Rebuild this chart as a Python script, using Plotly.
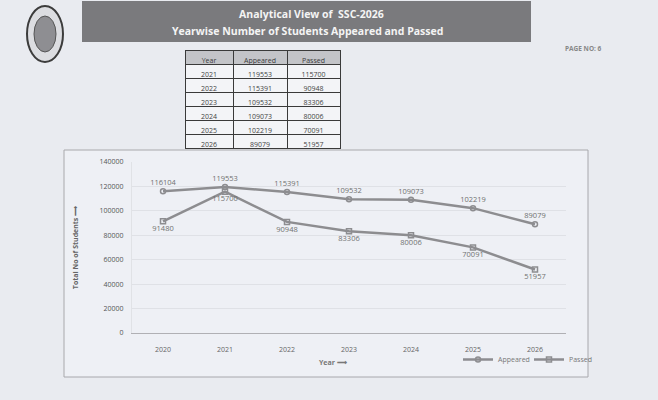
import plotly.graph_objects as go

# data
years = ['2020', '2021', '2022', '2023', '2024', '2025', '2026']
appeared = [116104, 119553, 115391, 109532, 109073, 102219, 89079]
passed = [91480, 115700, 90948, 83306, 80006, 70091, 51957]

table_years = ['2021', '2022', '2023', '2024', '2025', '2026']
table_appeared = [119553, 115391, 109532, 109073, 102219, 89079]
table_passed = [115700, 90948, 83306, 80006, 70091, 51957]

y_ticks = [0, 20000, 40000, 60000, 80000, 100000, 120000, 140000]

W, H = 658, 400
def px(x):
    return x / W
def py(y):
    return 1 - y / H

line_grey = '#8d8d90'
text_grey = '#707070'
font = 'Open Sans, Liberation Sans, Arial'

fig = go.Figure()

# table
fig.add_trace(go.Table(
    domain=dict(x=[px(185), px(340)], y=[py(150), py(50)]),
    columnwidth=[48, 54, 53],
    header=dict(
        values=['Year', 'Appeared', 'Passed'],
        fill_color='#c3c4c8',
        line_color='#3a3a3a',
        font=dict(family=font, size=7, color='#3c3c3c'),
        height=14, align='center'
    ),
    cells=dict(
        values=[table_years, table_appeared, table_passed],
        fill_color='#f3f4f7',
        line_color='#3a3a3a',
        font=dict(family=font, size=7, color='#444'),
        height=14, align='center'
    )
))

# lines
fig.add_trace(go.Scatter(
    x=years, y=appeared, name='Appeared',
    mode='lines+markers+text',
    line=dict(color=line_grey, width=2.5),
    marker=dict(symbol='circle-open', size=5, color=line_grey, line=dict(width=1.5)),
    text=[str(v) for v in appeared], textposition='top center',
    textfont=dict(family=font, size=7.5, color=text_grey),
    cliponaxis=False
))
fig.add_trace(go.Scatter(
    x=years, y=passed, name='Passed',
    mode='lines+markers+text',
    line=dict(color=line_grey, width=2.5),
    marker=dict(symbol='square-open', size=5, color=line_grey, line=dict(width=1.5)),
    text=[str(v) for v in passed], textposition='bottom center',
    textfont=dict(family=font, size=7.5, color=text_grey),
    cliponaxis=False
))

shapes = [
    # logo
    dict(type='circle', xref='paper', yref='paper',
         x0=px(27), x1=px(63), y0=py(62), y1=py(6),
         line=dict(color='#3c3c3c', width=2), fillcolor='#dcdde1'),
    dict(type='circle', xref='paper', yref='paper',
         x0=px(34), x1=px(56), y0=py(52), y1=py(16),
         line=dict(color='#555', width=1), fillcolor='#8e8e92'),
    # header banner
    dict(type='rect', xref='paper', yref='paper',
         x0=px(82), x1=px(531), y0=py(42), y1=py(1),
         line=dict(width=0), fillcolor='#7a7a7d', layer='below'),
    # chart frame
    dict(type='rect', xref='paper', yref='paper',
         x0=px(64), x1=px(588), y0=py(377), y1=py(150),
         line=dict(color='#a8a8ac', width=1), fillcolor='#eef0f5', layer='below'),
]

def note(text, x, y, size, color):
    return dict(text=text, x=px(x), y=py(y), xref='paper', yref='paper',
                xanchor='center', yanchor='middle', showarrow=False,
                font=dict(family=font, size=size, color=color))

annotations = [
    note('<b>Analytical View of  SSC-2026</b>', 311, 14, 10.5, '#f4f4f4'),
    note('<b>Yearwise Number of Students Appeared and Passed</b>', 307, 31, 10.5, '#f4f4f4'),
    note('<b>PAGE NO: 6</b>', 583, 48, 6.5, '#888'),
    note('<b>Year ⟶</b>', 333, 362, 7, '#777'),
]

fig.update_layout(
    width=W, height=H,
    margin=dict(l=0, r=0, t=0, b=0, autoexpand=False),
    paper_bgcolor='#e9ebf0',
    plot_bgcolor='rgba(0,0,0,0)',
    shapes=shapes,
    annotations=annotations,
    showlegend=True,
    legend=dict(orientation='h', x=px(458), y=py(345), xanchor='left', yanchor='top',
                bgcolor='rgba(0,0,0,0)', font=dict(family=font, size=7, color='#777'),
                itemwidth=30, tracegroupgap=0, entrywidth=26),
    xaxis=dict(domain=[px(132), px(566)], type='category', range=[-0.5, 6.5],
               showgrid=False, showline=True, linecolor='#b0b0b4', linewidth=1,
               ticks='', tickfont=dict(family=font, size=7, color='#666'),
               ticklabelstandoff=10, automargin=False),
    yaxis=dict(domain=[py(333), py(162)], range=[0, 140000],
               tickvals=y_ticks, ticktext=[str(v) for v in y_ticks],
               showgrid=True, gridcolor='#dfe1e6', zeroline=False,
               showline=True, linecolor='#e0e2e6',
               tickfont=dict(family=font, size=7, color='#555'),
               ticklabelstandoff=6, automargin=False,
               title=dict(text='<b>Total No of Students ⟶</b>', standoff=20,
                          font=dict(family=font, size=7, color='#666'))),
)

fig.write_html('out.html', config={'displayModeBar': False},
               post_script="document.body.style.margin='0';document.body.style.overflow='hidden';")
